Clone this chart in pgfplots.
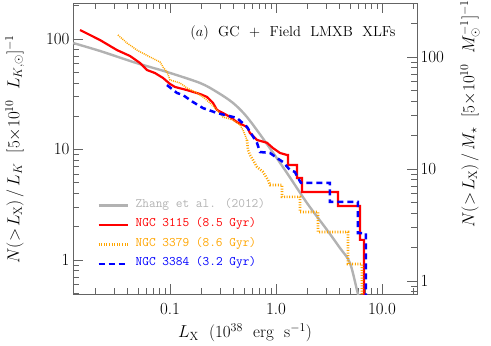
\documentclass[border=0pt]{standalone}
\usepackage{fontspec}
\usepackage{pgfplots}
\pgfplotsset{compat=1.18}
\definecolor{lmxborange}{RGB}{255,165,0}
\definecolor{zhanggray}{RGB}{178,178,178}
\definecolor{framegray}{RGB}{100,100,100}

\begin{document}
\begin{tikzpicture}
\begin{axis}[
  at={(0pt,0pt)}, anchor=south west,
  scale only axis, width=344pt, height=291pt,
  xmode=log, ymode=log,
  xmin=0.01216, xmax=21.4,
  ymin=0.492, ymax=211.8,
  axis line style={framegray, line width=0.8pt},
  tick style={framegray, line width=0.8pt},
  major tick length=10pt, minor tick length=6pt,
  tick align=inside,
  tick label style={font=\fontsize{17}{17}\selectfont},
  label style={font=\fontsize{17}{19}\selectfont},
  ytick pos=left,
  xtick={0.1,1,10}, xticklabels={0.1,1.0,10.0},
  minor xtick={0.02,0.03,0.04,0.05,0.06,0.07,0.08,0.09,0.2,0.3,0.4,0.5,0.6,0.7,0.8,0.9,2,3,4,5,6,7,8,9,20},
  ytick={1,10,100}, yticklabels={1,10,100},
  minor ytick={0.5,0.6,0.7,0.8,0.9,2,3,4,5,6,7,8,9,20,30,40,50,60,70,80,90,200},
  xticklabel style={yshift=-6pt},
  xlabel={$L_{\mathrm{X}}$\ \ (10$^{38}$\ \ erg\ \ s$^{-1}$)},
  xlabel style={at={(axis description cs:0.5,0)}, anchor=center, yshift=-39pt},
  ylabel={$N(>\!L_{\mathrm{X}})\,/\,L_K$\ \ [5$\times$10$^{10}$\ \ $L_{K,\odot}$]$^{-1}$},
  ylabel style={at={(axis description cs:-0.169,0.498)}, anchor=center},
  legend cell align=left,
  legend style={draw=none, fill=none, at={(axis description cs:0.0698,0.337)}, anchor=north west,
    font=\fontsize{13}{13}\ttfamily, row sep=5pt, column sep=4pt, inner sep=0pt},
  legend image post style={xscale=1.75, yshift=-2pt},
]
% Zhang et al. (2012)
\addplot[zhanggray, line width=2.4pt, smooth, tension=0.5] coordinates {
  (0.0122,92) (0.0219,77.9) (0.0448,62) (0.0648,55.8) (0.0937,50.3) (0.192,40.0)
  (0.2776,33.1) (0.393,26.4) (0.532,19.7) (0.822,11.2) (1.27,6.13) (1.96,3.28)
  (3.03,1.87) (4.02,1.28) (4.99,0.94) (5.94,0.49) (6.3,0.42)
};
\addlegendentry{\textcolor{zhanggray}{Zhang et al. (2012)}}
% NGC 3115
\addplot[red, line width=2.2pt] coordinates {
  (0.01416,120.6) (0.01759,108.7) (0.02186,97.9) (0.03162,79.4) (0.04195,70.2)
  (0.05212,60.7) (0.06067,52.4) (0.07218,49.2) (0.0859,44.4) (0.1,39.2)
  (0.1115,36.8) (0.1446,34.5) (0.1919,31.8) (0.2234,29.9) (0.2545,26.4)
  (0.2776,22.8) (0.3302,20.9) (0.3683,19.7) (0.4285,17.7) (0.5324,16.0)
  (0.5684,14.1) (0.6619,12.2) (0.8225,11.5) (0.9369,10.3) (1.091,9.30)
  (1.27,8.92) (1.298,8.92) (1.298,7.24) (1.578,7.24) (1.578,5.52) (1.759,5.52)
  (1.759,4.12) (3.846,4.12) (3.846,3.08) (6.20,3.08) (6.20,1.52) (6.76,1.52)
  (6.76,0.3)
};
\addlegendentry{\textcolor{red}{NGC 3115 (8.5 Gyr)}}
% NGC 3379 (faint part, many small steps)
\addplot[lmxborange, line width=1.5pt, dash pattern=on 1pt off 1pt, forget plot] coordinates {
  (0.0323,108.7) (0.0393,92.0) (0.0488,79.4) (0.0648,68.7) (0.0805,61.9)
  (0.0859,55.8) (0.0937,50.3) (0.1,42.6) (0.1243,40.0) (0.1446,36.0)
  (0.1799,32.5) (0.2048,29.9) (0.2385,26.4) (0.2776,22.8) (0.3162,19.7)
  (0.3929,18.5) (0.4575,16.7) (0.4886,15.0) (0.5324,12.2)
};
% NGC 3379
\addplot[lmxborange, line width=2.6pt, dash pattern=on 1pt off 1.6pt] coordinates {
  (0.5324,12.2) (0.5445,9.89)
  (0.5684,8.92) (0.6067,8.03) (0.6619,6.95) (0.7540,6.26) (0.8405,5.30)
  (0.8774,4.77) (1.139,4.77) (1.139,3.72) (1.684,3.72) (1.684,2.72)
  (2.491,2.72) (2.491,1.79) (4.777,1.79) (4.777,0.92) (6.48,0.92) (6.48,0.3)
};
\addlegendentry{\textcolor{lmxborange}{NGC 3379 (8.6 Gyr)}}
% NGC 3384
\addplot[blue, line width=2.5pt, dash pattern=on 6pt off 4pt] coordinates {
  (0.0937,38.3) (0.1164,32.5) (0.1326,31.1) (0.1648,26.9) (0.2048,23.7)
  (0.2776,21.4) (0.4285,19.3) (0.5324,16.0) (0.6619,11.5) (0.7063,9.49)
  (0.8774,9.3) (1.022,8.38) (1.164,7.70) (1.355,6.52) (1.51,6.26)
  (1.60,5.6) (1.72,4.98) (3.23,4.98) (3.23,3.35) (5.94,3.35) (5.94,1.75)
  (7.06,1.75) (7.06,0.3)
};
\addlegendentry{\textcolor{blue}{NGC 3384 (3.2 Gyr)}}
\node[anchor=east, font=\fontsize{14.5}{16}\selectfont] at (axis description cs:0.948,0.897)
  {$(a)$\ \ GC\ \ +\ \ Field\ \ LMXB\ \ XLFs};
\end{axis}
\begin{axis}[
  at={(0pt,0pt)}, anchor=south west,
  scale only axis, width=344pt, height=291pt,
  xmode=log, ymode=log,
  xmin=0.01216, xmax=21.4,
  ymin=0.765, ymax=303,
  axis line style={framegray, line width=0.8pt},
  tick style={framegray, line width=0.8pt},
  major tick length=10pt, minor tick length=6pt,
  tick align=inside,
  tick label style={font=\fontsize{17}{17}\selectfont},
  label style={font=\fontsize{17}{19}\selectfont},
  axis y line*=right, hide x axis,
  ytick={1,10,100}, yticklabels={1,10,100},
  minor ytick={0.8,0.9,2,3,4,5,6,7,8,9,20,30,40,50,60,70,80,90,200,300},
  ylabel={$N(>\!L_{\mathrm{X}})\,/\,M_\star$\ \ [5$\times$10$^{10}$\ \ $M_\odot^{-1}$]$^{-1}$},
  ylabel style={at={(axis description cs:1.154,0.62)}, anchor=center},
]
\end{axis}
\pgfresetboundingbox
\useasboundingbox (-73pt,-52pt) rectangle (418pt,294pt);
\end{tikzpicture}
\end{document}
